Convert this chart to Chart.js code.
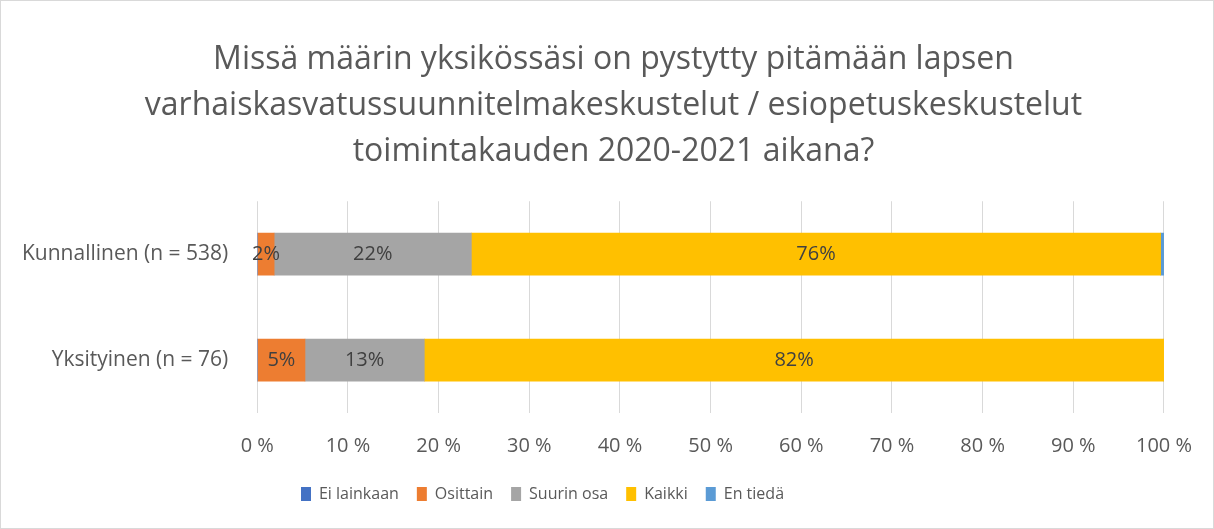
<!DOCTYPE html>
<html>
<head>
<meta charset="utf-8">
<script src="https://cdn.jsdelivr.net/npm/chart.js@4.4.0/dist/chart.umd.min.js"></script>
<style>
  html, body { margin: 0; padding: 0; background: #fff; }
  #wrap { position: relative; width: 1212px; height: 527px; border: 1px solid #d9d9d9; }
</style>
</head>
<body>
<div id="wrap"><canvas id="myChart"></canvas></div>
<script>
const categories = ["Kunnallinen (n = 538)", "Yksityinen (n = 76)"];
const seriesNames = ["Ei lainkaan", "Osittain", "Suurin osa", "Kaikki", "En tiedä"];
const eiLainkaan = [0, 0];
const osittain = [1.86, 5.26];
const suurinOsa = [21.75, 13.16];
const kaikki = [76.02, 81.58];
const enTieda = [0.37, 0];
const colors = ["#4472C4", "#ED7D31", "#A5A5A5", "#FFC000", "#5B9BD5"];

const titleLines = [
  "Missä määrin yksikössäsi on pystytty pitämään lapsen",
  "varhaiskasvatussuunnitelmakeskustelut / esiopetuskeskustelut",
  "toimintakauden 2020-2021 aikana?"
];

const FONT = "'Open Sans', sans-serif";

// draws the percent labels in the middle of each segment
const segmentLabels = {
  id: "segmentLabels",
  afterDatasetsDraw(chart) {
    const ctx = chart.ctx;
    ctx.save();
    ctx.font = "20px " + FONT;
    ctx.fillStyle = "#404040";
    ctx.textAlign = "center";
    ctx.textBaseline = "middle";
    chart.data.datasets.forEach((ds, i) => {
      const meta = chart.getDatasetMeta(i);
      meta.data.forEach((bar, j) => {
        const v = ds.data[j];
        if (v < 1) return;
        const x = (bar.x + bar.base) / 2;
        ctx.fillText(Math.round(v) + "%", x, bar.y);
      });
    });
    ctx.restore();
  }
};

// title and legend are not centred on the same line in the original
const boxShift = {
  id: "boxShift",
  afterUpdate(chart) {
    chart.legend.left -= 43;
    chart.legend.right -= 43;
    chart.titleBlock.left += 28;
    chart.titleBlock.right += 28;
  }
};

const seriesData = [eiLainkaan, osittain, suurinOsa, kaikki, enTieda];

const ctx = document.getElementById("myChart").getContext("2d");
const myChart = new Chart(ctx, {
  type: "bar",
  data: {
    labels: categories,
    datasets: seriesNames.map((name, i) => ({
      label: name,
      data: seriesData[i],
      backgroundColor: colors[i],
      borderWidth: 0,
      barThickness: 42,
    })),
  },
  plugins: [segmentLabels, boxShift],
  options: {
    indexAxis: "y",
    responsive: true,
    maintainAspectRatio: false,
    animation: false,
    layout: { padding: { left: 0, right: 43, top: 36, bottom: 16 } },
    scales: {
      x: {
        stacked: true,
        min: 0,
        max: 100,
        afterFit: (scale) => { scale.height -= 11; },
        ticks: {
          stepSize: 10,
          callback: (v) => v + " %",
          color: "#595959",
          font: { family: FONT, size: 20 },
          padding: 21,
        },
        grid: { color: "#d9d9d9", drawTicks: false },
        border: { display: false },
      },
      y: {
        stacked: true,
        ticks: {
          color: "#595959",
          font: { family: FONT, size: 21 },
          padding: 21,
        },
        grid: { display: false },
        border: { display: false },
      },
    },
    plugins: {
      title: {
        display: true,
        text: titleLines,
        color: "#595959",
        font: { family: FONT, size: 32, weight: "normal", lineHeight: 1.44 },
        padding: { top: 0, bottom: 26 },
      },
      legend: {
        position: "bottom",
        labels: {
          boxWidth: 10,
          boxHeight: 14,
          color: "#595959",
          font: { family: FONT, size: 16 },
          padding: 18,
        },
      },
      tooltip: { enabled: true },
    },
  },
});
</script>
</body>
</html>
